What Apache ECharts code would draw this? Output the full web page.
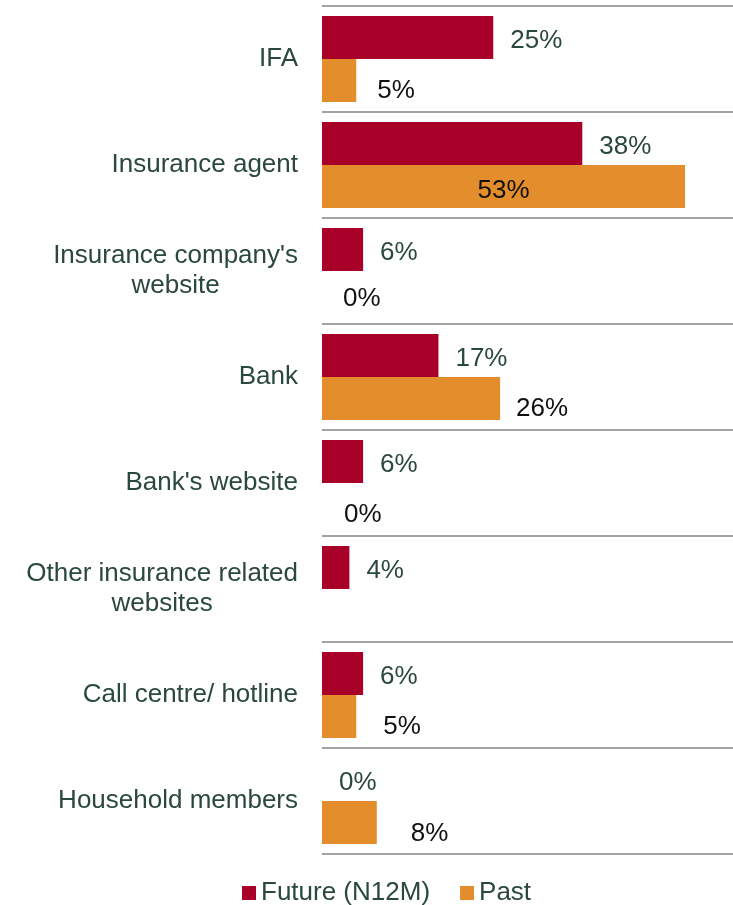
<!DOCTYPE html>
<html>
<head>
<meta charset="utf-8">
<script src="https://cdn.jsdelivr.net/npm/echarts@6/dist/echarts.min.js"></script>
<style>
  html, body { margin: 0; padding: 0; background: #ffffff; }
  #chart { width: 733px; height: 905px; }
</style>
</head>
<body>
<div id="chart"></div>
<script>
// Purchase channels: planned (next 12 months) vs. used in the past
const categories = [
  'IFA',
  'Insurance agent',
  "Insurance company's\nwebsite",
  'Bank',
  "Bank's website",
  'Other insurance related\nwebsites',
  'Call centre/ hotline',
  'Household members'
];
const futureValues = [25, 38, 6, 17, 6, 4, 6, 0];
const pastValues = [5, 53, 0, 26, 0, null, 5, 8];
const seriesNames = ['Future (N12M)', 'Past'];

// Hand-tuned nudges for the "Past" value labels [dx, dy]
const pastLabelNudge = [[4, 10], [0, 4], [4, 6], [-1, 10], [5, 10], [0, 0], [10, 10], [17, 11]];

const FONT = "'Liberation Sans', Arial, sans-serif";
const TEXT = '#2B4840';

const chart = echarts.init(document.getElementById('chart'), null, { renderer: 'canvas' });

const pastData = pastValues.map((v, i) => {
  if (v === null) return { value: null };
  const item = { value: v, label: { offset: pastLabelNudge[i] } };
  if (v >= 40) {
    item.label = { position: 'inside', offset: pastLabelNudge[i] };
  }
  return item;
});

chart.setOption({
  animation: false,
  backgroundColor: '#ffffff',
  textStyle: { fontFamily: FONT },
  grid: { left: 322, top: 6, width: 415, height: 848, containLabel: false },
  legend: {
    data: seriesNames,
    left: 237,
    top: 875,
    icon: 'rect',
    itemWidth: 14,
    itemHeight: 14,
    itemGap: 30,
    textStyle: { fontFamily: FONT, fontSize: 26, color: TEXT }
  },
  xAxis: {
    type: 'value',
    min: 0,
    max: 60,
    show: false,
    splitLine: { show: false }
  },
  yAxis: {
    type: 'category',
    data: categories,
    inverse: true,
    axisLine: { show: false },
    axisTick: { show: false },
    splitLine: { show: true, lineStyle: { color: '#a3a3a3', width: 2 } },
    axisLabel: {
      margin: 24,
      align: 'right',
      formatter: v => v.split('\n').map(s => '{c|' + s + '}').join('\n'),
      rich: {
        c: { align: 'center', fontFamily: FONT, fontSize: 26, lineHeight: 30, color: TEXT }
      }
    }
  },
  series: [
    {
      name: seriesNames[0],
      type: 'bar',
      data: futureValues,
      barWidth: 43,
      barGap: '0%',
      itemStyle: { color: '#A80028' },
      label: {
        show: true,
        position: 'right',
        distance: 17,
        offset: [0, 3],
        formatter: '{c}%',
        fontFamily: FONT,
        fontSize: 26,
        color: TEXT
      }
    },
    {
      name: seriesNames[1],
      type: 'bar',
      data: pastData,
      barWidth: 43,
      barGap: '0%',
      itemStyle: { color: '#E38D2C' },
      label: {
        show: true,
        position: 'right',
        distance: 17,
        formatter: '{c}%',
        fontFamily: FONT,
        fontSize: 26,
        color: '#111111'
      }
    }
  ]
});
</script>
</body>
</html>
